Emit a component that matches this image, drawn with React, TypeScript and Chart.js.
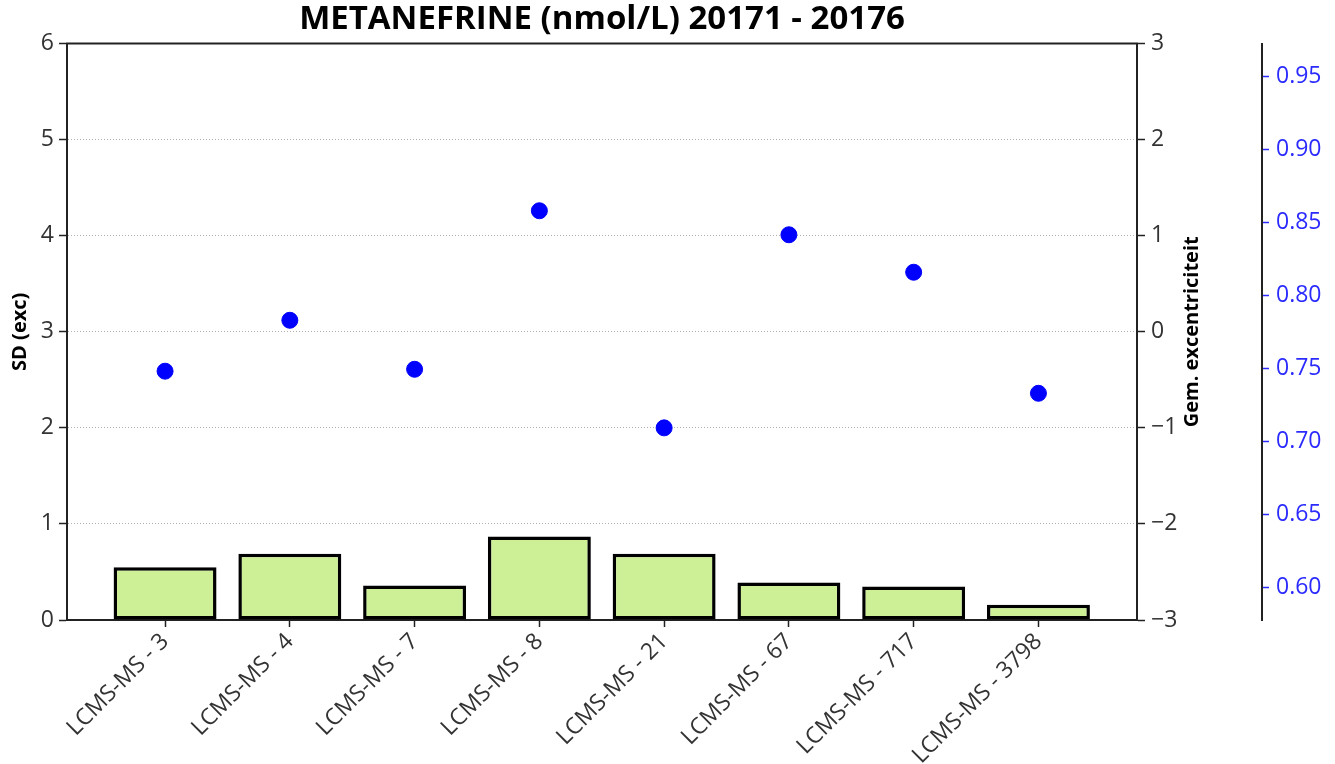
import React, { useEffect, useRef } from "react";
import { Chart, registerables } from "chart.js";

Chart.register(...registerables);

const categories = [
  "LCMS-MS - 3",
  "LCMS-MS - 4",
  "LCMS-MS - 7",
  "LCMS-MS - 8",
  "LCMS-MS - 21",
  "LCMS-MS - 67",
  "LCMS-MS - 717",
  "LCMS-MS - 3798",
];
const sdValues = [0.55, 0.69, 0.36, 0.87, 0.69, 0.39, 0.35, 0.16];
const excValues = [-0.41, 0.12, -0.39, 1.26, -1.0, 1.01, 0.62, -0.64];
const leftTicks = [0, 1, 2, 3, 4, 5, 6];
const titleText = "METANEFRINE (nmol/L) 20171 - 20176";
const leftTitle = "SD (exc)";
const rightTitle = "Gem. excentriciteit";

const FONT = "'Open Sans', 'Noto Sans', sans-serif";
const TICK_COLOR = "#333";
const SPINE = "#222";
const BLUE = "#2b2bff";
const TICK_SIZE = 23;

export default function App() {
  const ref = useRef<HTMLCanvasElement | null>(null);

  useEffect(() => {
    if (!ref.current) return;

    const framePlugin = {
      id: "frame",
      afterDraw(chart: any) {
        const { ctx, chartArea } = chart;
        ctx.save();
        ctx.strokeStyle = SPINE;
        ctx.lineWidth = 2;
        ctx.beginPath();
        ctx.moveTo(chartArea.left - 1, chartArea.top);
        ctx.lineTo(chartArea.right + 1, chartArea.top);
        ctx.stroke();
        // right axis title, rotated bottom-to-top
        ctx.fillStyle = "#000";
        ctx.font = `bold 20px ${FONT}`;
        ctx.textAlign = "center";
        ctx.textBaseline = "middle";
        ctx.translate(1192, (chartArea.top + chartArea.bottom) / 2);
        ctx.rotate(-Math.PI / 2);
        ctx.fillText(rightTitle, 0, 0);
        ctx.restore();
      },
    };

    const chart = new Chart(ref.current, {
      type: "bar",
      data: {
        datasets: [
          {
            type: "scatter" as any,
            label: rightTitle,
            data: excValues.map((v, i) => ({ x: i, y: v })),
            yAxisID: "y1",
            xAxisID: "x",
            backgroundColor: "#0000ff",
            borderColor: "#0000ff",
            pointRadius: 8,
            pointHoverRadius: 8,
            showLine: false,
            order: 0,
          } as any,
          {
            type: "bar",
            label: leftTitle,
            data: sdValues.map((v, i) => ({ x: i, y: v })) as any,
            yAxisID: "y",
            xAxisID: "x",
            backgroundColor: "#cdf096",
            borderColor: "#000",
            borderWidth: 3.5,
            borderSkipped: false,
            categoryPercentage: 1,
            barPercentage: 0.825,
            order: 1,
          },
        ],
      },
      options: {
        animation: false,
        responsive: true,
        maintainAspectRatio: false,
        layout: { padding: { left: 0, right: 0, top: 0, bottom: 0 } },
        plugins: {
          legend: { display: false },
          tooltip: { enabled: false },
          title: {
            display: true,
            fullSize: false,
            text: titleText,
            color: "#000",
            font: { family: FONT, size: 33, weight: "bold" },
            padding: { top: 0, bottom: 4 },
          },
        },
        scales: {
          x: {
            type: "linear",
            min: -0.786,
            max: 7.79,
            offset: false,
            grid: {
              display: true,
              drawOnChartArea: false,
              offset: false,
              tickLength: 7,
              tickColor: SPINE,
              tickWidth: 1.5,
            },
            border: { display: true, color: SPINE, width: 2 },
            ticks: {
              stepSize: 1,
              includeBounds: false,
              autoSkip: false,
              maxRotation: 45,
              minRotation: 45,
              padding: 1,
              color: TICK_COLOR,
              font: { family: FONT, size: TICK_SIZE },
              callback: (v: any) => {
                const i = Number(v);
                return Number.isInteger(i) && categories[i] ? categories[i] : "";
              },
            },
            afterFit: (s: any) => {
              s.height = 144;
            },
          },
          y: {
            type: "linear",
            position: "left",
            min: 0,
            max: 6,
            afterBuildTicks: (s: any) => {
              s.ticks = leftTicks.map((v) => ({ value: v }));
            },
            grid: {
              color: "#b0b0b0",
              lineWidth: 1,
              tickLength: 8,
              tickColor: SPINE,
              tickWidth: 1.5,
            },
            border: { display: true, color: SPINE, width: 2, dash: [1, 2] },
            ticks: {
              color: TICK_COLOR,
              padding: 5,
              font: { family: FONT, size: TICK_SIZE },
            },
            title: {
              display: true,
              text: leftTitle,
              color: "#000",
              font: { family: FONT, size: 20, weight: "bold" },
              padding: { top: 8, bottom: 0 },
            },
            afterFit: (s: any) => {
              s.width = 67;
            },
          },
          y1: {
            type: "linear",
            position: "right",
            min: -3,
            max: 3,
            grid: {
              drawOnChartArea: false,
              tickLength: 8,
              tickColor: SPINE,
              tickWidth: 1.5,
            },
            border: { display: true, color: SPINE, width: 2 },
            ticks: {
              stepSize: 1,
              color: TICK_COLOR,
              padding: 6,
              font: { family: FONT, size: TICK_SIZE },
              callback: (v: any) => {
                const n = Number(v);
                return n < 0 ? "\u2212" + Math.abs(n) : String(n);
              },
            },
            afterFit: (s: any) => {
              s.width = 125;
            },
          },
          y2: {
            type: "linear",
            position: "right",
            min: 0.578,
            max: 0.9726,
            grid: {
              drawOnChartArea: false,
              tickLength: 7,
              tickColor: BLUE,
              tickWidth: 1.5,
            },
            border: { display: true, color: SPINE, width: 2 },
            ticks: {
              stepSize: 0.05,
              includeBounds: false,
              color: BLUE,
              padding: 7,
              font: { family: FONT, size: TICK_SIZE },
              callback: (v: any) => Number(v).toFixed(2),
            },
            afterFit: (s: any) => {
              s.width = 73;
            },
          },
        },
      } as any,
      plugins: [framePlugin],
    });

    return () => chart.destroy();
  }, []);

  return (
    <div
      style={{
        position: "absolute",
        left: 0,
        top: 0,
        width: 1335,
        height: 764,
        background: "#fff",
      }}
    >
      <canvas ref={ref} />
    </div>
  );
}
